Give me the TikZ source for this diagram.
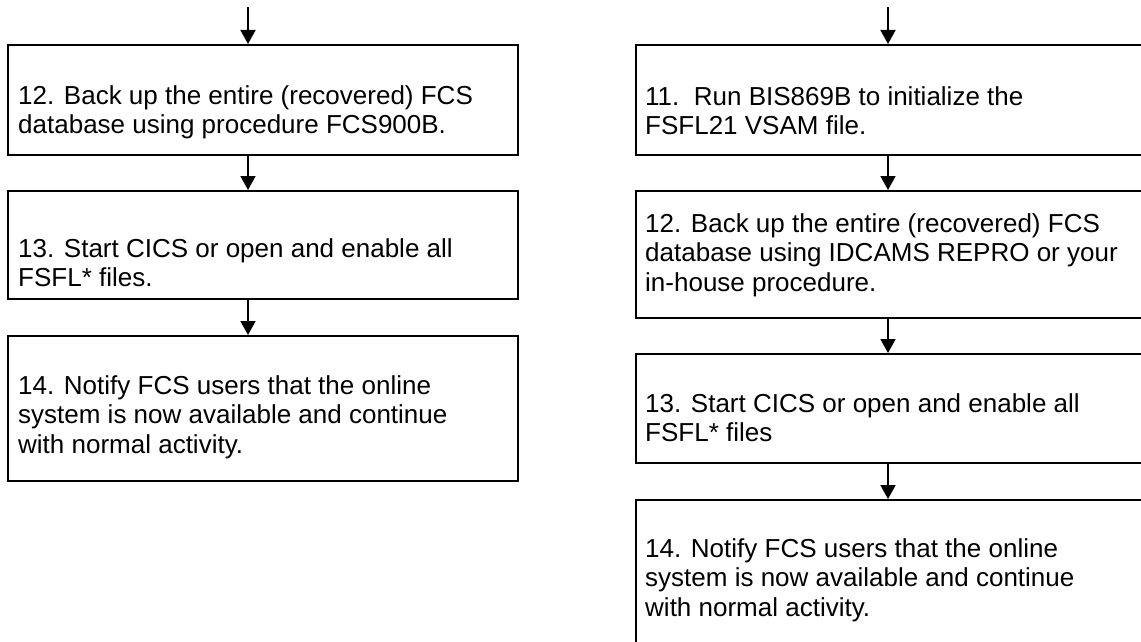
\documentclass[tikz,border=0pt]{standalone}
\usepackage{fontspec}
\setmainfont{Liberation Sans}
\usetikzlibrary{arrows.meta}
\tikzset{
  box/.style={draw=black, line width=1.8pt, rectangle, minimum width=510pt, inner sep=0pt, anchor=north west},
  txt/.style={anchor=north west, inner sep=0pt, align=left, font=\fontsize{26pt}{29.5pt}\selectfont},
  arr/.style={draw=black, line width=1.8pt, -{Triangle[width=15pt,length=14pt]}}
}
\begin{document}
\begin{tikzpicture}[x=1pt,y=-1pt]
\useasboundingbox (0,0) rectangle (1141,642);
\clip (0,0) rectangle (1141,642);
% left column
\node[box, minimum height=110pt] (L1) at (7,44) {};
\node[box, minimum height=108pt] (L2) at (7,190) {};
\node[box, minimum height=145pt] (L3) at (7,335) {};
\node[txt] (L1t) at (18,85) {12. Back up the entire (recovered) FCS\\database using procedure FCS900B.};
\node[txt] (L2t) at (18,238) {13. Start CICS or open and enable all\\FSFL* files.};
\node[txt] (L3t) at (18,375) {14. Notify FCS users that the online\\system is now available and continue\\with normal activity.};
\coordinate (Ltop) at (248,7);
\draw[arr] (Ltop) -- (Ltop |- L1.north);
\draw[arr] (Ltop |- L1.south) -- (Ltop |- L2.north);
\draw[arr] (Ltop |- L2.south) -- (Ltop |- L3.north);
% right column
\node[box, minimum height=110pt] (R1) at (635,44) {};
\node[box, minimum height=127pt] (R2) at (635,190) {};
\node[box, minimum height=109pt] (R3) at (635,353) {};
\node[box, minimum height=170pt] (R4) at (635,499) {};
\node[txt] (R1t) at (645,86) {11.\ \ Run BIS869B to initialize the\\FSFL21 VSAM file.};
\node[txt] (R2t) at (645,213) {12. Back up the entire (recovered) FCS\\database using IDCAMS REPRO or your\\in-house procedure.};
\node[txt] (R3t) at (645,393) {13. Start CICS or open and enable all\\FSFL* files};
\node[txt] (R4t) at (645,538) {14. Notify FCS users that the online\\system is now available and continue\\with normal activity.};
\coordinate (Rtop) at (888,7);
\draw[arr] (Rtop) -- (Rtop |- R1.north);
\draw[arr] (Rtop |- R1.south) -- (Rtop |- R2.north);
\draw[arr] (Rtop |- R2.south) -- (Rtop |- R3.north);
\draw[arr] (Rtop |- R3.south) -- (Rtop |- R4.north);
\end{tikzpicture}
\end{document}
